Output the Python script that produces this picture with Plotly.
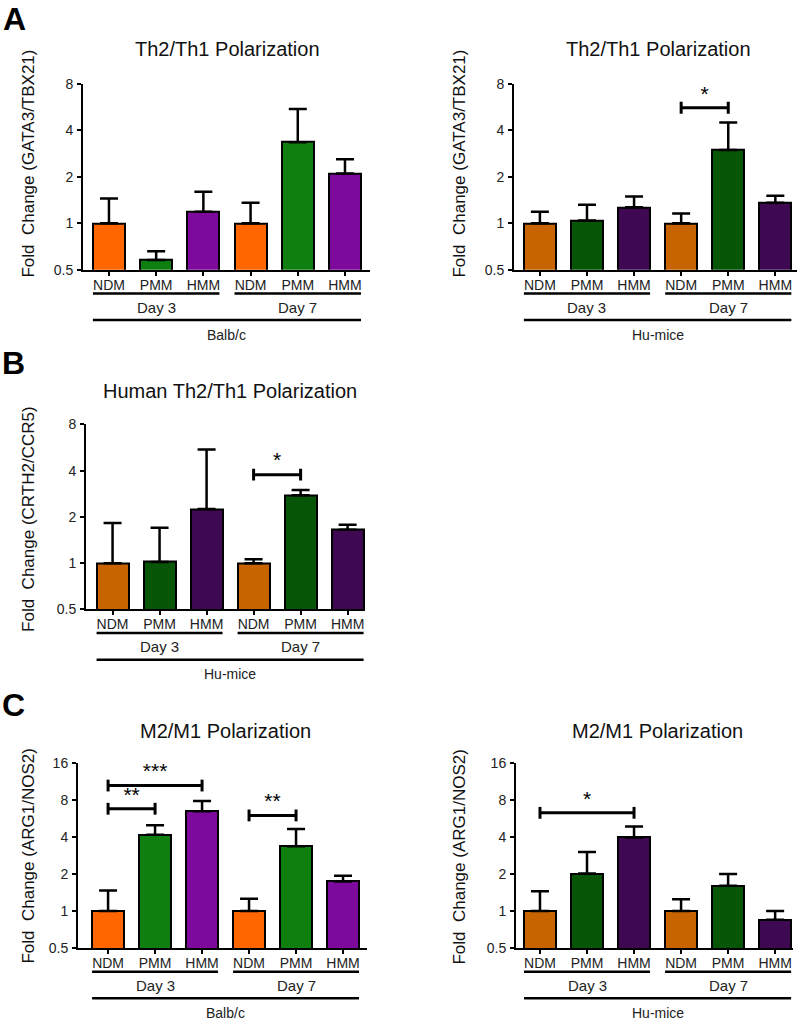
import plotly.graph_objects as go
import math

# ---------------- data ----------------
categories = ["NDM", "PMM", "HMM", "NDM", "PMM", "HMM"]
day_labels = ["Day 3", "Day 7"]

titles = ["Th2/Th1 Polarization", "Th2/Th1 Polarization", "Human Th2/Th1 Polarization",
          "M2/M1 Polarization", "M2/M1 Polarization"]
y_titles = ["Fold  Change (GATA3/TBX21)", "Fold  Change (GATA3/TBX21)",
            "Fold  Change (CRTH2/CCR5)", "Fold  Change (ARG1/NOS2)", "Fold  Change (ARG1/NOS2)"]
strains = ["Balb/c", "Hu-mice", "Hu-mice", "Balb/c", "Hu-mice"]

a1_mean = [1.0, 0.58, 1.19, 1.0, 3.35, 2.1]
a1_sem = [0.45, 0.08, 0.41, 0.36, 2.15, 0.5]
a2_mean = [1.0, 1.045, 1.27, 1.0, 2.98, 1.36]
a2_sem = [0.19, 0.275, 0.22, 0.16, 1.52, 0.15]
b_mean = [1.0, 1.02, 2.25, 1.0, 2.77, 1.65]
b_sem = [0.83, 0.68, 3.25, 0.06, 0.23, 0.13]
c1_mean = [1.0, 4.17, 6.5, 1.0, 3.37, 1.74]
c1_sem = [0.47, 0.83, 1.35, 0.26, 1.29, 0.2]
c2_mean = [1.0, 2.02, 3.97, 1.0, 1.61, 0.85]
c2_sem = [0.45, 1.0, 0.9, 0.25, 0.39, 0.15]

# significance brackets: (from index, to index, height, label)
a2_sig = [(3, 4, 5.6, "*")]
b_sig = [(3, 4, 3.77, "*")]
c1_sig = [(0, 1, 6.8, "**"), (0, 2, 10.5, "***"), (3, 4, 6.0, "**")]
c2_sig = [(0, 2, 6.3, "*")]

y_ticks_8 = [0.5, 1, 2, 4, 8]
y_ticks_16 = [0.5, 1, 2, 4, 8, 16]

bright = ["#FF6600", "#0F800F", "#7D0A9C"]
dark = ["#C86400", "#075507", "#3F0852"]

# ---------------- layout helpers ----------------
W, H = 800, 1027
FONT = "Arial, Liberation Sans, sans-serif"


def px_x(p):
    return p / W


def px_y(p):
    return 1 - p / H


panels = [
    dict(mean=a1_mean, sem=a1_sem, sig=[], ticks=y_ticks_8, cols=bright,
         x0=83, x1=370, y0=77, y1=266, xr=[-0.55, 5.53], tx=227, ty=42, ytx=29, yty=158),
    dict(mean=a2_mean, sem=a2_sem, sig=a2_sig, ticks=y_ticks_8, cols=dark,
         x0=514, x1=797, y0=77, y1=266, xr=[-0.55, 5.46], tx=658, ty=42, ytx=460, yty=158),
    dict(mean=b_mean, sem=b_sem, sig=b_sig, ticks=y_ticks_8, cols=dark,
         x0=86, x1=365, y0=423, y1=611, xr=[-0.565, 5.37], tx=230, ty=389, ytx=29, yty=520),
    dict(mean=c1_mean, sem=c1_sem, sig=c1_sig, ticks=y_ticks_16, cols=bright,
         x0=78, x1=367, y0=767, y1=955, xr=[-0.64, 5.51], tx=226, ty=734, ytx=29, yty=862),
    dict(mean=c2_mean, sem=c2_sem, sig=c2_sig, ticks=y_ticks_16, cols=dark,
         x0=516, x1=793, y0=767, y1=955, xr=[-0.51, 5.38], tx=657, ty=734, ytx=460, yty=862),
]

fig = go.Figure()
shapes = []
annotations = []
layout_axes = {}
BAR_W = 0.68
xs = list(range(len(categories)))

for i, p in enumerate(panels):
    n = i + 1
    xa = "x" if n == 1 else f"x{n}"
    ya = "y" if n == 1 else f"y{n}"
    xkey = "xaxis" if n == 1 else f"xaxis{n}"
    ykey = "yaxis" if n == 1 else f"yaxis{n}"
    ymin, ymax = p["ticks"][0], p["ticks"][-1]
    px_per_dbl = (p["y1"] - p["y0"]) / math.log2(ymax / ymin)

    fig.add_trace(go.Bar(
        x=xs, y=p["mean"], width=BAR_W,
        marker=dict(color=p["cols"] * 2, line=dict(color="black", width=2)),
        error_y=dict(type="data", symmetric=False, array=p["sem"],
                     arrayminus=[0] * len(xs), color="black", thickness=2.5, width=9),
        xaxis=xa, yaxis=ya, showlegend=False, hoverinfo="skip"))

    layout_axes[xkey] = dict(
        domain=[px_x(p["x0"]), px_x(p["x1"])], anchor=ya, range=p["xr"],
        tickmode="array", tickvals=xs, ticktext=categories,
        showline=True, linecolor="black", linewidth=2, ticks="outside", ticklen=4,
        tickwidth=1.5, tickcolor="black", ticklabelstandoff=-3,
        tickfont=dict(family=FONT, size=14, color="#222"),
        showgrid=False, zeroline=False, fixedrange=True)
    layout_axes[ykey] = dict(
        domain=[px_y(p["y1"]), px_y(p["y0"])], anchor=xa, type="log",
        range=[math.log10(ymin), math.log10(ymax)],
        tickmode="array", tickvals=p["ticks"], ticktext=[f"{t:g}" for t in p["ticks"]],
        showline=True, linecolor="black", linewidth=2, ticks="outside", ticklen=4,
        tickwidth=1.5, tickcolor="black", ticklabelstandoff=1,
        tickfont=dict(family=FONT, size=14, color="#222"),
        showgrid=False, zeroline=False, fixedrange=True)

    # significance brackets
    f = 2 ** (6 / px_per_dbl)
    for (a, b, h, lab) in p["sig"]:
        fig.add_trace(go.Scatter(
            x=[a, a, None, a, b, None, b, b], y=[h / f, h * f, None, h, h, None, h / f, h * f],
            mode="lines", line=dict(color="black", width=3), xaxis=xa, yaxis=ya,
            showlegend=False, hoverinfo="skip"))
        fig.add_trace(go.Scatter(
            x=[(a + b) / 2], y=[h * 2 ** (2 / px_per_dbl)], mode="text", text=[lab],
            textposition="top center", textfont=dict(family=FONT, size=21, color="black"),
            xaxis=xa, yaxis=ya, showlegend=False, hoverinfo="skip"))

    # group lines and labels
    yb = p["y1"]
    for g, dl in enumerate(day_labels):
        lo = 3 * g - BAR_W / 2
        hi = 3 * g + 2 + BAR_W / 2
        shapes.append(dict(type="line", xref=xa, yref="paper", x0=lo, x1=hi,
                           y0=px_y(yb + 24), y1=px_y(yb + 24), line=dict(color="black", width=2.5)))
        annotations.append(dict(xref=xa, yref="paper", x=3 * g + 1, y=px_y(yb + 38),
                                text=dl, showarrow=False, xanchor="center", yanchor="middle",
                                font=dict(family=FONT, size=15, color="#222")))
    shapes.append(dict(type="line", xref=xa, yref="paper", x0=-BAR_W / 2, x1=5 + BAR_W / 2,
                       y0=px_y(yb + 51), y1=px_y(yb + 51), line=dict(color="black", width=2.5)))
    annotations.append(dict(xref=xa, yref="paper", x=2.5, y=px_y(yb + 66),
                            text=strains[i], showarrow=False, xanchor="center", yanchor="middle",
                            font=dict(family=FONT, size=14, color="#222")))

    # title and y title
    annotations.append(dict(xref="paper", yref="paper", x=px_x(p["tx"]), y=px_y(p["ty"]),
                            text=titles[i], showarrow=False, xanchor="center", yanchor="middle",
                            font=dict(family=FONT, size=20, color="#111")))
    annotations.append(dict(xref="paper", yref="paper", x=px_x(p["ytx"]), y=px_y(p["yty"]),
                            text=y_titles[i], showarrow=False, xanchor="center", yanchor="middle",
                            textangle=-90, font=dict(family=FONT, size=17, color="#111")))

for letter, lx, ly in [("A", 14, 11), ("B", 13, 361), ("C", 13, 708)]:
    annotations.append(dict(xref="paper", yref="paper", x=px_x(lx), y=px_y(ly), text=f"<b>{letter}</b>",
                            showarrow=False, xanchor="center", yanchor="middle",
                            font=dict(family=FONT, size=32, color="black")))

fig.update_layout(
    width=W, height=H, margin=dict(l=0, r=0, t=0, b=0),
    paper_bgcolor="white", plot_bgcolor="white",
    shapes=shapes, annotations=annotations, bargap=0, **layout_axes)

fig.write_html("out.html", config={"displayModeBar": False},
               post_script="document.body.style.margin='0';document.body.style.overflow='hidden';")
